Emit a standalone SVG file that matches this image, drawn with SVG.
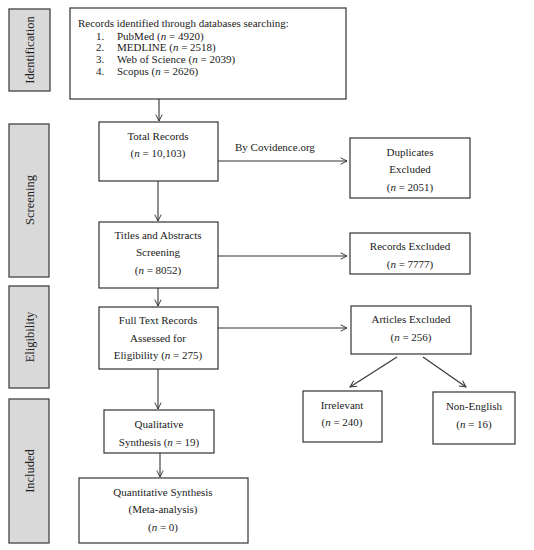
<svg xmlns="http://www.w3.org/2000/svg" width="534" height="550" viewBox="0 0 534 550">
<style>
text{font-family:"Liberation Serif","Times New Roman",serif;font-size:11px;fill:#222}
.c{text-anchor:middle}
.i{font-style:italic}
.s{font-size:12.5px}
.box{fill:#fff;stroke:#333;stroke-width:1.2}
.side{fill:#d9d9d9;stroke:#444;stroke-width:1.3}
.ln{fill:none;stroke:#333;stroke-width:1.1}
</style>
<defs>
<marker id="a" viewBox="0 0 10 10" refX="9" refY="5" markerWidth="8" markerHeight="8" markerUnits="userSpaceOnUse" orient="auto">
<polyline points="1,1 9,5 1,9" fill="none" stroke="#333" stroke-width="1.2"/>
</marker>
</defs>
<rect width="534" height="550" fill="#fff"/>
<g id="side-identification"><rect class="side" x="9" y="9" width="41" height="82"/><text class="c s" transform="translate(33.5,50) rotate(-90)">Identification</text></g>
<g id="side-screening"><rect class="side" x="9" y="124" width="40" height="153"/><text class="c s" transform="translate(33.5,200) rotate(-90)">Screening</text></g>
<g id="side-eligibility"><rect class="side" x="9" y="286" width="40" height="102"/><text class="c s" transform="translate(33.5,337) rotate(-90)">Eligibility</text></g>
<g id="side-included"><rect class="side" x="9" y="399" width="40" height="144"/><text class="c s" transform="translate(33.5,471) rotate(-90)">Included</text></g>

<g id="records"><rect class="box" x="70" y="8" width="276" height="91"/>
<text x="78" y="27">Records identified through databases searching:</text>
<text x="96" y="40">1.</text><text x="117" y="40">PubMed (<tspan class="i">n</tspan> = 4920)</text>
<text x="96" y="51">2.</text><text x="117" y="51">MEDLINE (<tspan class="i">n</tspan> = 2518)</text>
<text x="96" y="63">3.</text><text x="117" y="63">Web of Science (<tspan class="i">n</tspan> = 2039)</text>
<text x="96" y="75">4.</text><text x="117" y="75">Scopus (<tspan class="i">n</tspan> = 2626)</text>
</g>
<g id="total"><rect class="box" x="99" y="122" width="119" height="59"/>
<text class="c" x="158" y="140">Total Records</text>
<text class="c" x="158" y="157">(<tspan class="i">n</tspan> = 10,103)</text></g>
<g id="duplicates"><rect class="box" x="350" y="138" width="120" height="60"/>
<text class="c" x="410" y="156">Duplicates</text>
<text class="c" x="410" y="173">Excluded</text>
<text class="c" x="410" y="191">(<tspan class="i">n</tspan> = 2051)</text></g>
<g id="titles"><rect class="box" x="99" y="222" width="119" height="66"/>
<text class="c" x="158" y="239">Titles and Abstracts</text>
<text class="c" x="158" y="256">Screening</text>
<text class="c" x="158" y="274">(<tspan class="i">n</tspan> = 8052)</text></g>
<g id="recexcl"><rect class="box" x="350" y="233" width="120" height="41"/>
<text class="c" x="410" y="250">Records Excluded</text>
<text class="c" x="410" y="268">(<tspan class="i">n</tspan> = 7777)</text></g>
<g id="fulltext"><rect class="box" x="99" y="307" width="119" height="62"/>
<text class="c" x="158" y="324">Full Text Records</text>
<text class="c" x="158" y="342">Assessed for</text>
<text class="c" x="158" y="359">Eligibility (<tspan class="i">n</tspan> = 275)</text></g>
<g id="articles"><rect class="box" x="351" y="306" width="120" height="48"/>
<text class="c" x="411" y="323">Articles Excluded</text>
<text class="c" x="411" y="341">(<tspan class="i">n</tspan> = 256)</text></g>
<g id="irrelevant"><rect class="box" x="303" y="391" width="79" height="51"/>
<text class="c" x="342" y="409">Irrelevant</text>
<text class="c" x="342" y="426">(<tspan class="i">n</tspan> = 240)</text></g>
<g id="nonenglish"><rect class="box" x="433" y="392" width="82" height="52"/>
<text class="c" x="474" y="410">Non-English</text>
<text class="c" x="474" y="428">(<tspan class="i">n</tspan> = 16)</text></g>
<g id="qualitative"><rect class="box" x="104" y="410" width="110" height="43"/>
<text class="c" x="159" y="428">Qualitative</text>
<text class="c" x="159" y="446">Synthesis (<tspan class="i">n</tspan> = 19)</text></g>
<g id="quantitative"><rect class="box" x="79" y="478" width="169" height="65"/>
<text class="c" x="163" y="496">Quantitative Synthesis</text>
<text class="c" x="163" y="513">(Meta-analysis)</text>
<text class="c" x="163" y="531">(<tspan class="i">n</tspan> = 0)</text></g>

<g id="connectors">
<line class="ln" x1="159" y1="99" x2="159" y2="121" marker-end="url(#a)"/>
<line class="ln" x1="218" y1="161" x2="347" y2="161" marker-end="url(#a)"/>
<text x="235" y="151">By Covidence.org</text>
<line class="ln" x1="158" y1="181" x2="158" y2="221" marker-end="url(#a)"/>
<line class="ln" x1="218" y1="256" x2="347" y2="256" marker-end="url(#a)"/>
<line class="ln" x1="158" y1="288" x2="158" y2="306" marker-end="url(#a)"/>
<line class="ln" x1="218" y1="328" x2="347" y2="328" marker-end="url(#a)"/>
<line class="ln" x1="397" y1="357" x2="350" y2="387" marker-end="url(#a)"/>
<line class="ln" x1="423" y1="357" x2="466" y2="387" marker-end="url(#a)"/>
<line class="ln" x1="158" y1="369" x2="158" y2="409" marker-end="url(#a)"/>
<line class="ln" x1="160" y1="453" x2="160" y2="477" marker-end="url(#a)"/>
</g>
</svg>
